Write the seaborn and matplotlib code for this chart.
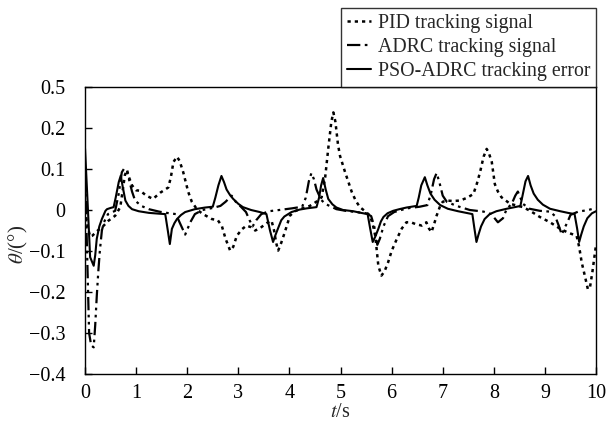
import numpy as np
import pandas as pd
import seaborn as sns
import matplotlib
matplotlib.use('Agg')
import matplotlib.pyplot as plt

# %% data
pid_t = [0.00, 0.05, 0.10, 0.14, 0.25, 0.35, 0.46, 0.59, 0.69, 0.74, 0.78, 0.82, 0.86, 0.92,
         1.00, 1.08, 1.20, 1.33, 1.47, 1.63, 1.68, 1.73, 1.80, 1.85, 1.92, 2.02, 2.09, 2.20,
         2.31, 2.48, 2.60, 2.68, 2.75, 2.84, 2.90, 2.97, 3.07, 3.16, 3.25, 3.33, 3.42, 3.49,
         3.58, 3.65, 3.70, 3.74, 3.78, 3.84, 3.91, 4.01, 4.10, 4.21, 4.40, 4.55, 4.63, 4.70,
         4.76, 4.82, 4.86, 4.90, 4.95, 4.99, 5.09, 5.22, 5.30, 5.38, 5.50, 5.58, 5.64, 5.68,
         5.74, 5.80, 5.86, 5.93, 6.00, 6.10, 6.20, 6.29, 6.38, 6.46, 6.59, 6.68, 6.73, 6.78,
         6.83, 6.88, 6.95, 7.00, 7.08, 7.20, 7.34, 7.48, 7.60, 7.67, 7.73, 7.80, 7.86, 7.90,
         7.96, 8.02, 8.08, 8.15, 8.32, 8.57, 8.71, 8.90, 9.10, 9.30, 9.45, 9.62, 9.67, 9.72,
         9.78, 9.84, 9.88, 9.93, 10.0]
pid_y = [0.000, -0.040, -0.065, -0.063, -0.050, -0.040, -0.026, -0.014, 0.007, 0.050, 0.085,
         0.098, 0.080, 0.060, 0.048, 0.047, 0.035, 0.027, 0.042, 0.055, 0.080, 0.117, 0.130,
         0.120, 0.093, 0.044, 0.020, 0.000, -0.010, -0.022, -0.025, -0.040, -0.070, -0.099,
         -0.090, -0.063, -0.047, -0.038, -0.042, -0.050, -0.045, -0.038, -0.030, -0.026,
         -0.050, -0.080, -0.099, -0.080, -0.054, -0.014, -0.003, 0.002, 0.010, 0.022, 0.031,
         0.080, 0.150, 0.215, 0.238, 0.215, 0.160, 0.132, 0.092, 0.044, 0.022, 0.007, -0.005,
         -0.014, -0.040, -0.063, -0.136, -0.160, -0.150, -0.128, -0.100, -0.071, -0.045,
         -0.030, -0.030, -0.034, -0.038, -0.030, -0.045, -0.054, -0.035, -0.014, 0.010, 0.020,
         0.023, 0.022, 0.023, 0.030, 0.039, 0.065, 0.092, 0.130, 0.149, 0.140, 0.117, 0.063,
         0.045, 0.031, 0.015, 0.007, -0.002, -0.017, -0.030, -0.046, -0.055, -0.063, -0.090,
         -0.128, -0.160, -0.193, -0.190, -0.150, -0.085]

adrc_t = [0.00, 0.04, 0.08, 0.12, 0.17, 0.20, 0.23, 0.26, 0.29, 0.33, 0.37, 0.45, 0.59, 0.66,
          0.72, 0.76, 0.82, 0.86, 0.92, 0.98, 1.10, 1.25, 1.45, 1.65, 1.78, 1.85, 1.96, 2.06,
          2.15, 2.30, 2.50, 2.65, 2.75, 2.87, 2.95, 3.05, 3.15, 3.22, 3.28, 3.35, 3.45, 3.60,
          3.80, 4.05, 4.25, 4.32, 4.38, 4.43, 4.48, 4.53, 4.62, 4.70, 4.92, 5.10, 5.30, 5.50,
          5.60, 5.66, 5.72, 5.77, 5.84, 5.93, 6.05, 6.30, 6.55, 6.70, 6.77, 6.83, 6.88, 6.93,
          7.00, 7.08, 7.27, 7.53, 7.80, 7.95, 8.08, 8.18, 8.25, 8.35, 8.42, 8.47, 8.52, 8.57,
          8.70, 8.90, 9.10, 9.20, 9.27, 9.33, 9.38, 9.44, 9.50, 9.65, 9.85, 10.0]
adrc_y = [0.100, -0.100, -0.300, -0.330, -0.335, -0.280, -0.210, -0.150, -0.100, -0.050,
          -0.030, -0.010, -0.002, 0.040, 0.092, 0.100, 0.095, 0.075, 0.045, 0.023, 0.010,
          0.002, -0.004, -0.008, -0.010, -0.030, -0.060, -0.030, -0.010, 0.000, 0.005, 0.010,
          0.020, 0.035, 0.020, 0.008, -0.005, -0.025, -0.040, -0.025, -0.010, -0.003, 0.000,
          0.004, 0.008, 0.030, 0.070, 0.090, 0.075, 0.050, 0.025, 0.015, 0.002, -0.002,
          -0.005, -0.008, -0.015, -0.040, -0.085, -0.070, -0.040, -0.015, -0.005, 0.004,
          0.008, 0.012, 0.040, 0.075, 0.090, 0.070, 0.035, 0.020, 0.010, 0.000, -0.004,
          -0.010, -0.030, -0.020, 0.002, 0.015, 0.035, 0.045, 0.030, 0.015, 0.003, -0.002,
          -0.004, -0.015, -0.038, -0.060, -0.045, -0.030, -0.012, -0.004, 0.000, 0.005]

pso_t = [0.00, 0.05, 0.10, 0.17, 0.20, 0.23, 0.28, 0.33, 0.40, 0.43, 0.50, 0.56, 0.60, 0.66,
         0.70, 0.74, 0.79, 0.85, 0.92, 1.05, 1.25, 1.45, 1.57, 1.62, 1.66, 1.70, 1.75, 1.80,
         1.88, 1.96, 2.15, 2.35, 2.50, 2.55, 2.61, 2.67, 2.72, 2.77, 2.84, 2.90, 3.00, 3.09,
         3.25, 3.42, 3.55, 3.62, 3.68, 3.73, 3.78, 3.84, 3.90, 4.04, 4.20, 4.34, 4.53, 4.58,
         4.62, 4.66, 4.71, 4.76, 4.84, 4.92, 5.05, 5.25, 5.40, 5.53, 5.58, 5.63, 5.68, 5.74,
         5.79, 5.84, 5.92, 6.03, 6.15, 6.29, 6.49, 6.53, 6.58, 6.65, 6.70, 6.76, 6.84, 6.95,
         7.10, 7.30, 7.50, 7.58, 7.62, 7.66, 7.70, 7.75, 7.82, 7.92, 8.05, 8.25, 8.45, 8.52,
         8.57, 8.62, 8.67, 8.72, 8.78, 8.86, 8.96, 9.10, 9.30, 9.45, 9.58, 9.63, 9.67, 9.71,
         9.76, 9.83, 9.92, 10.0]
pso_y = [0.150, 0.020, -0.115, -0.136, -0.110, -0.070, -0.040, -0.022, -0.002, 0.002, 0.005,
         0.007, 0.030, 0.068, 0.084, 0.055, 0.023, 0.010, 0.002, -0.003, -0.007, -0.009,
         -0.010, -0.050, -0.083, -0.046, -0.032, -0.022, -0.012, -0.005, 0.002, 0.006, 0.008,
         0.030, 0.060, 0.083, 0.068, 0.050, 0.036, 0.027, 0.015, 0.007, 0.000, -0.005, -0.010,
         -0.050, -0.078, -0.060, -0.044, -0.025, -0.016, -0.005, 0.001, 0.004, 0.007, 0.030,
         0.060, 0.078, 0.050, 0.027, 0.014, 0.006, 0.000, -0.003, -0.007, -0.010, -0.045,
         -0.078, -0.065, -0.046, -0.028, -0.017, -0.008, -0.002, 0.002, 0.006, 0.010, 0.030,
         0.060, 0.080, 0.060, 0.040, 0.025, 0.012, 0.003, -0.003, -0.008, -0.010, -0.045,
         -0.078, -0.060, -0.040, -0.022, -0.010, -0.003, 0.003, 0.008, 0.010, 0.040, 0.070,
         0.083, 0.060, 0.040, 0.025, 0.013, 0.003, -0.003, -0.007, -0.010, -0.045, -0.078,
         -0.060, -0.040, -0.020, -0.008, -0.003]

series_names = ['PID tracking signal', 'ADRC tracking signal', 'PSO-ADRC tracking error']
y_ticks = [-0.4, -0.3, -0.2, -0.1, 0.0, 0.1, 0.2, 0.3]
# the top tick is printed as 0.5 in the original figure
y_tick_labels = ['\u22120.4', '\u22120.3', '\u22120.2', '\u22120.1', '0', '0.1', '0.2', '0.5']
x_ticks = list(range(0, 11))

# %% style
sns.set_style('ticks')
plt.rcParams['font.family'] = ['Liberation Serif', 'DejaVu Serif']
plt.rcParams['mathtext.fontset'] = 'stix'

fig = plt.figure(figsize=(6.09, 4.25), dpi=100)
ax = fig.add_axes([0.1396, 0.12, 0.8391, 0.6753])

styles = [(0, (1.3, 1.6)), (0, (6, 2, 1.2, 2, 1.2, 2)), '-']
widths = [1.8, 1.6, 1.5]
for (t, y), name, ls, lw in zip([(pid_t, pid_y), (adrc_t, adrc_y), (pso_t, pso_y)],
                                series_names, styles, widths):
    df = pd.DataFrame({'t': t, 'y': y})
    sns.lineplot(data=df, x='t', y='y', ax=ax, color='black', linestyle=ls,
                 linewidth=lw, label=name, sort=False)

ax.set_xlim(0, 10)
ax.set_ylim(-0.4, 0.3)
ax.set_xticks(x_ticks)
ax.set_xticklabels([str(v) for v in x_ticks])
ax.set_yticks(y_ticks)
ax.set_yticklabels(y_tick_labels)
ax.tick_params(direction='in', length=5, width=1, labelsize=14.5, colors='black')
ax.tick_params(axis='y', pad=14)
ax.tick_params(axis='x', pad=7)
for s in ax.spines.values():
    s.set_linewidth(1.0)
    s.set_color('black')

ax.set_xlabel(r'$t$/s', fontsize=14.5)
ax.xaxis.set_label_coords(0.5, -0.1)
ax.set_ylabel(r'$\theta$/(°)', fontsize=15)
ax.yaxis.set_label_coords(-0.108, 0.45)

leg = ax.legend(loc='lower right', bbox_to_anchor=(1.0, 1.0), borderaxespad=0,
                frameon=True, fancybox=False, fontsize=14.3, handlelength=1.2,
                handletextpad=0.35, borderpad=0.3, labelspacing=0.25)
leg.get_frame().set_edgecolor('black')
leg.get_frame().set_linewidth(1.0)

fig.savefig('out.png', dpi=100)
